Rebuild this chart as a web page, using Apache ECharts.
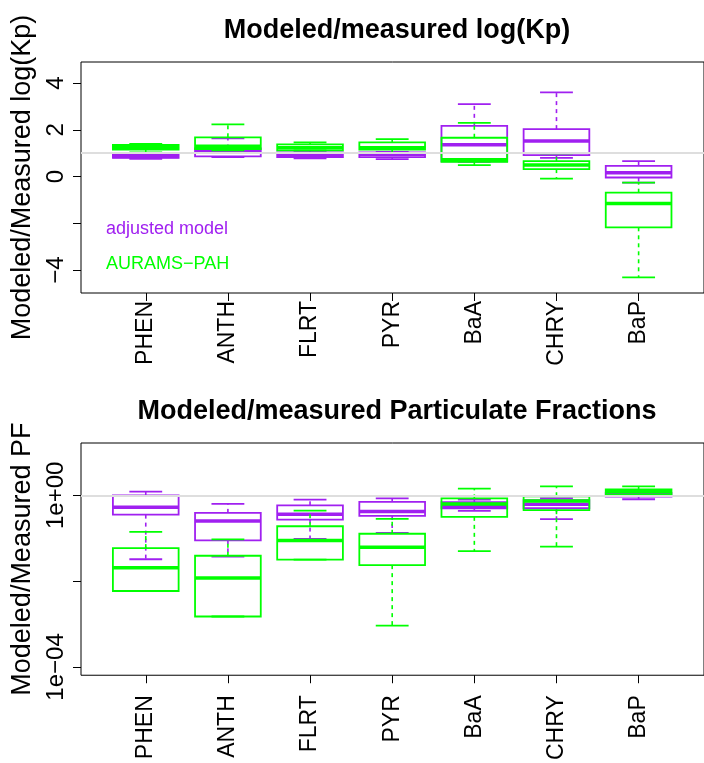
<!DOCTYPE html>
<html><head><meta charset="utf-8">
<script src="https://cdn.jsdelivr.net/npm/echarts@6/dist/echarts.min.js"></script>
<style>html,body{margin:0;padding:0;background:#fff}#c{width:704px;height:763px}</style>
</head><body><div id="c"></div>
<script>
// ---- data ----
const categories = ['PHEN','ANTH','FLRT','PYR','BaA','CHRY','BaP'];
// each row: [lower whisker, Q1, median, Q3, upper whisker]
const kpAdjusted = [
  [0.76, 0.80, 0.86, 0.95, 1.00],
  [0.83, 0.86, 1.06, 1.20, 1.63],
  [0.78, 0.83, 0.89, 1.03, 1.10],
  [0.75, 0.83, 0.95, 1.03, 1.05],
  [0.63, 0.65, 1.36, 2.17, 3.10],
  [0.80, 0.92, 1.52, 2.03, 3.60],
  [-0.26, -0.04, 0.16, 0.46, 0.66]
];
const kpAurams = [
  [1.03, 1.15, 1.23, 1.35, 1.40],
  [1.12, 1.18, 1.30, 1.68, 2.23],
  [1.12, 1.12, 1.23, 1.38, 1.46],
  [1.00, 1.15, 1.23, 1.46, 1.60],
  [0.49, 0.63, 0.72, 1.66, 2.30],
  [-0.09, 0.32, 0.49, 0.66, 0.99],
  [-4.31, -2.17, -1.15, -0.69, -0.26]
];
const pfAdjusted = [
  [0.0324, 0.355, 0.525, 1.00, 1.22],
  [0.0375, 0.0895, 0.253, 0.39, 0.63],
  [0.097, 0.272, 0.36, 0.585, 0.79],
  [0.133, 0.33, 0.418, 0.70, 0.85],
  [0.435, 0.50, 0.555, 0.69, 0.79],
  [0.28, 0.50, 0.62, 0.77, 0.85],
  [0.81, 0.93, 1.05, 1.14, 1.22]
];
const pfAurams = [
  [0.00589, 0.00589, 0.0204, 0.0589, 0.141],
  [0.0015, 0.0015, 0.0118, 0.039, 0.0945],
  [0.0318, 0.0318, 0.0886, 0.19, 0.44],
  [0.00092, 0.0236, 0.0618, 0.127, 0.282],
  [0.050, 0.315, 0.63, 0.85, 1.43],
  [0.064, 0.45, 0.74, 0.95, 1.62],
  [1.02, 1.05, 1.22, 1.38, 1.62]
];
const kpTicks = [-4, -2, 0, 2, 4];
const kpTickLabels = [-4, 0, 2, 4];
const pfTicks = [1e-4, 1e-2, 1];
const pfTickLabels = [1e-4, 1];
const refValue = 1;
const seriesNames = ['adjusted model', 'AURAMS\u2212PAH'];

// ---- styling ----
const PURPLE = '#A020F0';
const GREEN = '#00FF00';
const FONT = "'Liberation Sans', Arial, Helvetica, sans-serif";
const positions = categories.map((c, i) => i + 1);

function toItems(rows) { return rows.map((r, i) => [positions[i]].concat(r)); }

function boxRender(color) {
  return function (params, api) {
    const x = api.value(0);
    const lo = api.value(1), q1 = api.value(2), med = api.value(3), q3 = api.value(4), hi = api.value(5);
    const pLo = api.coord([x, lo]), pQ1 = api.coord([x, q1]), pMed = api.coord([x, med]);
    const pQ3 = api.coord([x, q3]), pHi = api.coord([x, hi]);
    const xl = api.coord([x - 0.4, med])[0], xr = api.coord([x + 0.4, med])[0];
    const cl = api.coord([x - 0.2, med])[0], cr = api.coord([x + 0.2, med])[0];
    const cx = pMed[0];
    const dash = { stroke: color, lineWidth: 1.6, lineDash: [4, 4], fill: null };
    const solid = { stroke: color, lineWidth: 1.8, fill: null };
    return {
      type: 'group',
      children: [
        { type: 'line', shape: { x1: cx, y1: pQ3[1], x2: cx, y2: pHi[1] }, style: dash },
        { type: 'line', shape: { x1: cx, y1: pQ1[1], x2: cx, y2: pLo[1] }, style: dash },
        { type: 'line', shape: { x1: cl, y1: pHi[1], x2: cr, y2: pHi[1] }, style: solid },
        { type: 'line', shape: { x1: cl, y1: pLo[1], x2: cr, y2: pLo[1] }, style: solid },
        { type: 'rect', shape: { x: xl, y: pQ3[1], width: xr - xl, height: pQ1[1] - pQ3[1] }, style: { stroke: color, lineWidth: 1.8, fill: 'none' } },
        { type: 'line', shape: { x1: xl, y1: pMed[1], x2: xr, y2: pMed[1] }, style: { stroke: color, lineWidth: 3.5 } }
      ]
    };
  };
}

function boxSeries(name, rows, color, idx, withRef) {
  const s = {
    name: name, type: 'custom', xAxisIndex: idx, yAxisIndex: idx,
    renderItem: boxRender(color), itemStyle: { color: color },
    encode: { x: 0, y: [1, 2, 3, 4, 5] },
    data: toItems(rows), silent: true, animation: false, z: 3
  };
  if (withRef) {
    s.markLine = {
      silent: true, symbol: 'none', animation: false,
      label: { show: false },
      lineStyle: { color: '#dedede', width: 2, type: 'solid' },
      data: [{ yAxis: refValue }]
    };
  }
  return s;
}

function xAxisCfg(idx, margin) {
  return {
    type: 'value', gridIndex: idx, min: 0.2116, max: 7.796, position: 'bottom',
    axisLine: { show: false, onZero: false }, splitLine: { show: false },
    axisTick: { show: true, customValues: positions, length: 8, lineStyle: { color: '#000', width: 1 } },
    axisLabel: {
      show: true, customValues: positions, rotate: 90, margin: margin,
      fontFamily: FONT, fontSize: 23, color: '#000',
      formatter: v => categories[Math.round(v) - 1]
    }
  };
}

const minus = s => String(s).replace('-', '\u2212');

const option = {
  animation: false,
  backgroundColor: '#fff',
  title: [
    { text: 'Modeled/measured log(Kp)', left: 397, top: 17, padding: 0, textAlign: 'center',
      textStyle: { fontFamily: FONT, fontSize: 27, fontWeight: 'bold', color: '#000' } },
    { text: 'Modeled/measured Particulate Fractions', left: 397, top: 398, padding: 0, textAlign: 'center',
      textStyle: { fontFamily: FONT, fontSize: 27, fontWeight: 'bold', color: '#000' } }
  ],
  legend: {
    orient: 'vertical', left: 96, top: 215, icon: 'none', itemWidth: 0, itemHeight: 14,
    itemGap: 17, selectedMode: false,
    textStyle: { fontFamily: FONT, fontSize: 18 },
    data: [
      { name: seriesNames[0], textStyle: { color: PURPLE } },
      { name: seriesNames[1], textStyle: { color: GREEN } }
    ]
  },
  grid: [
    { left: 81, top: 62, width: 632, height: 231, show: true, borderColor: '#000', borderWidth: 1, backgroundColor: 'transparent' },
    { left: 81, top: 443, width: 632, height: 233, show: true, borderColor: '#000', borderWidth: 1, backgroundColor: 'transparent' }
  ],
  xAxis: [xAxisCfg(0, 8), xAxisCfg(1, 20)],
  yAxis: [
    {
      type: 'value', gridIndex: 0, min: -4.98, max: 4.90,
      axisLine: { show: false, onZero: false }, splitLine: { show: false },
      axisTick: { show: true, customValues: kpTicks, length: 8, lineStyle: { color: '#000' } },
      axisLabel: { customValues: kpTickLabels, rotate: 90, margin: 13, fontFamily: FONT, fontSize: 24, color: '#000', formatter: v => minus(v) },
      name: 'Modeled/Measured log(Kp)', nameLocation: 'middle', nameRotate: 90, nameGap: 44,
      nameTextStyle: { fontFamily: FONT, fontSize: 27, color: '#000' }
    },
    {
      type: 'log', gridIndex: 1, logBase: 10, min: 6.41e-5, max: 16.56,
      axisLine: { show: false, onZero: false }, splitLine: { show: false },
      axisTick: { show: true, customValues: pfTicks, length: 8, lineStyle: { color: '#000' } },
      axisLabel: { customValues: pfTickLabels, rotate: 90, margin: 13, fontFamily: FONT, fontSize: 24, color: '#000',
        formatter: v => { const e = Math.round(Math.log10(v)); return '1e' + (e < 0 ? '\u2212' : '+') + String(Math.abs(e)).padStart(2, '0'); } },
      name: 'Modeled/Measured PF', nameLocation: 'middle', nameRotate: 90, nameGap: 44,
      nameTextStyle: { fontFamily: FONT, fontSize: 27, color: '#000' }
    }
  ],
  series: [
    boxSeries(seriesNames[0], kpAdjusted, PURPLE, 0, true),
    boxSeries(seriesNames[1], kpAurams, GREEN, 0, false),
    boxSeries(seriesNames[0], pfAdjusted, PURPLE, 1, true),
    boxSeries(seriesNames[1], pfAurams, GREEN, 1, false)
  ]
};

const chart = echarts.init(document.getElementById('c'), null, { renderer: 'canvas' });
chart.setOption(option);
</script>
</body></html>
